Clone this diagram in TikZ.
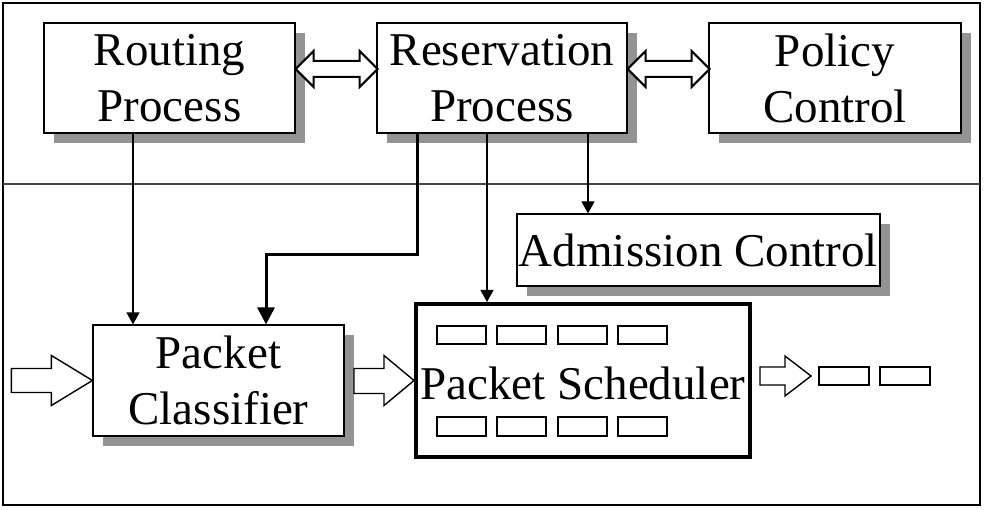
\documentclass[tikz,border=0pt]{standalone}
\usepackage{fontspec}
\setmainfont{Liberation Serif}
\usetikzlibrary{shadows,arrows.meta,calc}
\definecolor{shadowgray}{RGB}{147,147,147}
\definecolor{divgray}{RGB}{70,70,70}
\tikzset{
  box/.style={draw=black,line width=1.2pt,fill=white,inner sep=0pt,align=center,
    font=\fontsize{47}{56}\selectfont,
    drop shadow={shadow xshift=10pt,shadow yshift=-10pt,fill=shadowgray,opacity=1}},
  sched/.style={draw=black,line width=4pt,fill=white,inner sep=0pt,
    font=\fontsize{47}{56}\selectfont},
  qcell/.style={draw=black,line width=1.2pt,fill=white},
  fatdbl/.style={draw=black,line width=2pt,fill=white,line join=miter},
  fatone/.style={draw=black,line width=1.4pt,fill=white,line join=miter},
  thinarrow/.style={draw=black,line width=1.2pt,-{Triangle[length=12pt,width=13pt]}},
  thickarrow/.style={draw=black,line width=3pt,-{Triangle[length=17pt,width=17pt]}},
}
\begin{document}
\begin{tikzpicture}[x=1pt,y=-1pt]
\useasboundingbox (0,0) rectangle (984,510);
% frame and divider
\draw[line width=1.5pt] (3,3) rectangle (980,505);
\coordinate (dl) at (3,184);
\coordinate (dr) at (980,184);
\draw[line width=1.5pt,divgray] (dl) -- (dr);

% boxes
\node[box,minimum width=251pt,minimum height=110pt] (rout) at (169.5,78) {Routing\\Process};
\node[box,minimum width=250pt,minimum height=110pt] (resv) at (502,78) {Reservation\\Process};
\node[box,minimum width=252pt,minimum height=110pt] (pol) at (835,78) {Policy\\Control};
\node[box,minimum width=363pt,minimum height=72pt] (adm) at (698.5,250) {Admission Control};
\node[box,minimum width=251pt,minimum height=111pt] (cls) at (218.5,380.5) {Packet\\Classifier};
\node[sched,minimum width=334pt,minimum height=153pt] (sch) at (583,380.5) {};
\node[font=\fontsize{47}{56}\selectfont,inner sep=0pt] (schtxt) at (583,383) {Packet Scheduler};

% queue cells inside scheduler
\foreach \x [count=\i] in {437,497,558,618}{
  \draw[qcell] (\x,326) rectangle ++(49,18);
  \draw[qcell] (\x,417) rectangle ++(49,19);
}
% output queue cells
\draw[qcell] (819,367) rectangle (869,385);
\draw[qcell] (880,367) rectangle (930,385);

% double fat arrows
\draw[fatdbl] ($(rout.east)+(0,-9)$) -- ++(18,-18) -- ++(0,10) -- ++(46,0) -- ++(0,-10)
  -- ++(18,18) -- ++(-18,18) -- ++(0,-10) -- ++(-46,0) -- ++(0,10) -- cycle;
\draw[fatdbl] ($(resv.east)+(0,-9)$) -- ++(18,-18) -- ++(0,10) -- ++(46,0) -- ++(0,-10)
  -- ++(18,18) -- ++(-18,18) -- ++(0,-10) -- ++(-46,0) -- ++(0,10) -- cycle;

% single fat arrows
\draw[fatone] (cls.west) -- ++(-41,-25) -- ++(0,13) -- ++(-40,0) -- ++(0,24) -- ++(40,0) -- ++(0,13) -- cycle;
\draw[fatone] (sch.west) -- ++(-30,-25) -- ++(0,13) -- ++(-30,0) -- ++(0,25) -- ++(30,0) -- ++(0,12) -- cycle;
\draw[fatone] ($(sch.east)+(59,-4.5)$) -- ++(-26,-20) -- ++(0,11) -- ++(-25,0) -- ++(0,18) -- ++(25,0) -- ++(0,11) -- cycle;

% connectors
\coordinate (ra) at (133,0);
\coordinate (rb) at (417,255);
\coordinate (rc) at (266,255);
\coordinate (rd) at (487,0);
\coordinate (re) at (588,0);
\draw[thinarrow] (rout.south -| ra) -- (cls.north -| ra);
\draw[thickarrow] (resv.south -| rb) -- (rb) -- (rc) -- (cls.north -| rc);
\draw[thinarrow] (resv.south -| rd) -- (sch.north -| rd);
\draw[thinarrow] (resv.south -| re) -- (adm.north -| re);
\end{tikzpicture}
\end{document}
